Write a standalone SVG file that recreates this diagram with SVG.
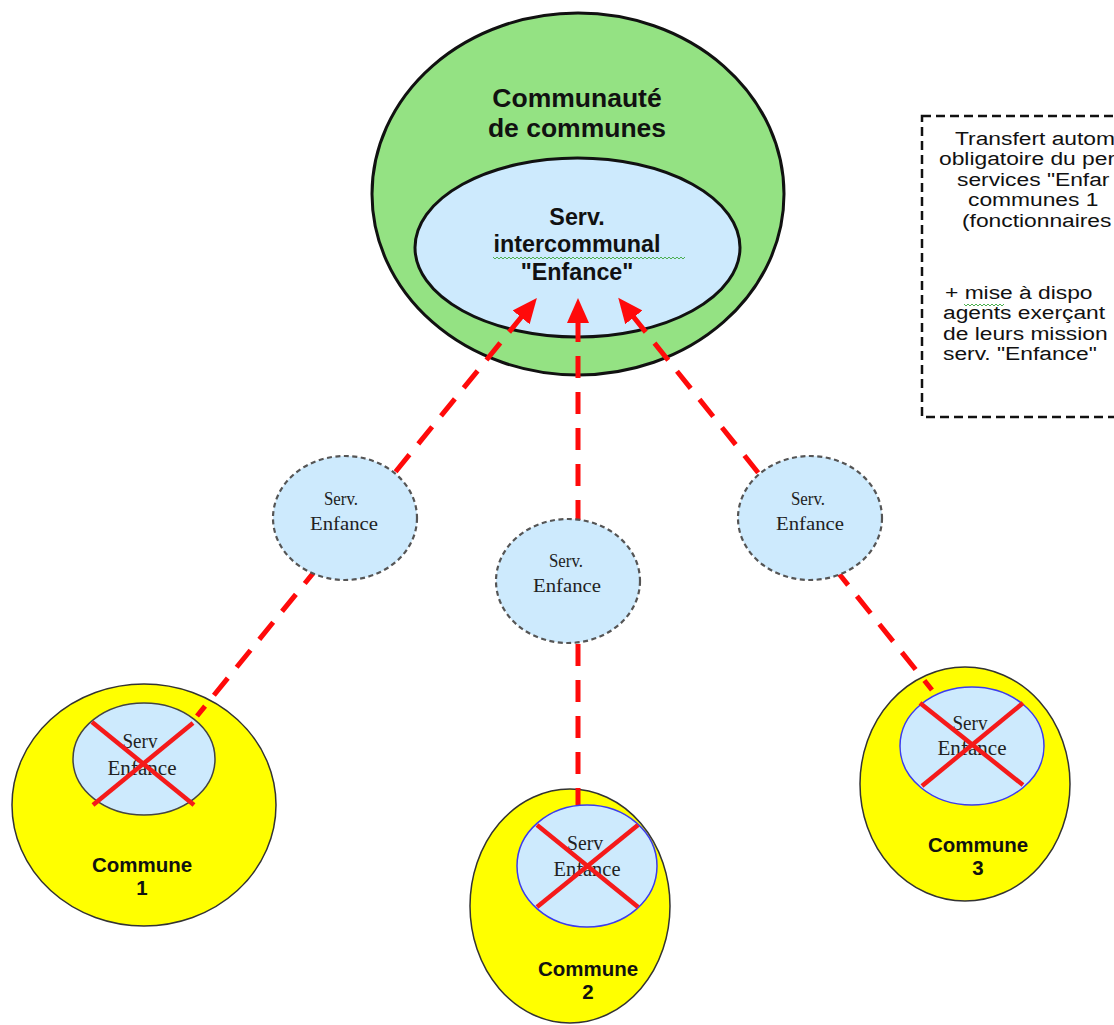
<svg xmlns="http://www.w3.org/2000/svg" width="1114" height="1025" viewBox="0 0 1114 1025">
  <style>
    .sans { font-family: "Liberation Sans", Arial, sans-serif; fill: #111; }
    .serif { font-family: "Liberation Serif", "Times New Roman", serif; fill: #222; }
    .bold { font-weight: bold; }
    .mid { text-anchor: middle; }
    .cc-outer { fill: #94e283; stroke: #111; stroke-width: 3; }
    .cc-inner { fill: #cdeafd; stroke: #111; stroke-width: 3; }
    .commune { fill: #ffff00; stroke: #333; stroke-width: 1.5; }
    .svc-old { fill: #cdeafd; stroke-width: 1.5; }
    .cross { stroke: #f51a1a; stroke-width: 4.5; stroke-linecap: butt; }
    .transit { fill: #cdeafd; stroke: #555; stroke-width: 2.2; stroke-dasharray: 5 3.5; }
    .link { fill: none; stroke: #ff0a0a; stroke-width: 5; stroke-dasharray: 22 14; }
    .squiggle { fill: none; stroke: #4caf50; stroke-width: 1; }
  </style>
  <defs>
    <marker id="arrow" markerUnits="userSpaceOnUse" markerWidth="26" markerHeight="24" refX="3" refY="12" orient="auto-start-reverse">
      <path d="M0,1 L25,12 L0,23 z" fill="#ff0a0a"/>
    </marker>
  </defs>

  <!-- Communauté de communes with its intercommunal service -->
  <g id="communaute">
    <ellipse class="cc-outer" cx="578" cy="194" rx="206" ry="181"/>
    <text class="sans bold mid" x="577" y="107" font-size="26.5">Communauté</text>
    <text class="sans bold mid" x="577" y="137" font-size="26.5">de communes</text>
  </g>
  <g id="serv-intercommunal">
    <ellipse class="cc-inner" cx="577.5" cy="247.5" rx="162.5" ry="89.5"/>
    <text class="sans bold mid" x="577" y="225" font-size="23.3">Serv.</text>
    <text class="sans bold mid" x="577" y="252" font-size="23.3">intercommunal</text>
    <text class="sans bold mid" x="577" y="280" font-size="23.3">"Enfance"</text>
    <path class="squiggle" d="M493,257 l2,2 2,-2 2,2 2,-2 2,2 2,-2 2,2 2,-2 2,2 2,-2 2,2 2,-2 2,2 2,-2 2,2 2,-2 2,2 2,-2 2,2 2,-2 2,2 2,-2 2,2 2,-2 2,2 2,-2 2,2 2,-2 2,2 2,-2 2,2 2,-2 2,2 2,-2 2,2 2,-2 2,2 2,-2 2,2 2,-2 2,2 2,-2 2,2 2,-2 2,2 2,-2 2,2 2,-2 2,2 2,-2 2,2 2,-2 2,2 2,-2 2,2 2,-2 2,2 2,-2 2,2 2,-2 2,2 2,-2 2,2 2,-2 2,2 2,-2 2,2 2,-2 2,2 2,-2 2,2 2,-2 2,2 2,-2 2,2 2,-2 2,2 2,-2 2,2 2,-2 2,2 2,-2 2,2 2,-2 2,2 2,-2 2,2 2,-2 2,2 2,-2 2,2 2,-2 2,2 2,-2 2,2 2,-2"/>
  </g>

  <!-- Explanatory note (dashed frame runs past the right edge) -->
  <g id="note">
    <rect x="922" y="116" width="220" height="301" fill="none" stroke="#111" stroke-width="2.5" stroke-dasharray="9 5"/>
    <g class="sans" font-size="19">
      <text transform="matrix(1.2 0 0 1 955 0)" x="0" y="145">Transfert autom</text>
      <text transform="matrix(1.2 0 0 1 939 0)" x="0" y="165.5">obligatoire du per</text>
      <text transform="matrix(1.2 0 0 1 957 0)" x="0" y="186">services "Enfar</text>
      <text transform="matrix(1.2 0 0 1 968 0)" x="0" y="206.5">communes 1</text>
      <text transform="matrix(1.2 0 0 1 962 0)" x="0" y="227">(fonctionnaires</text>
      <text transform="matrix(1.2 0 0 1 945 0)" x="0" y="299">+  mise à dispo</text>
      <text transform="matrix(1.2 0 0 1 943 0)" x="0" y="319.5">agents exerçant</text>
      <text transform="matrix(1.2 0 0 1 943 0)" x="0" y="340">de leurs mission</text>
      <text transform="matrix(1.2 0 0 1 943 0)" x="0" y="360">serv. "Enfance"</text>
    </g>
    <path class="squiggle" d="M964,304 l2,2 2,-2 2,2 2,-2 2,2 2,-2 2,2 2,-2 2,2 2,-2 2,2 2,-2 2,2 2,-2 2,2 2,-2 2,2 2,-2 2,2 2,-2"/>
  </g>

  <!-- Communes (outer discs) -->
  <g id="commune-1">
    <ellipse class="commune" cx="144" cy="805" rx="132" ry="121"/>
    <text class="sans bold mid" x="142" y="872" font-size="20.5">Commune</text>
    <text class="sans bold mid" x="142" y="895" font-size="20.5">1</text>
  </g>
  <g id="commune-2">
    <ellipse class="commune" cx="570" cy="906" rx="100" ry="117"/>
    <text class="sans bold mid" x="588" y="976" font-size="20.5">Commune</text>
    <text class="sans bold mid" x="588" y="999" font-size="20.5">2</text>
  </g>
  <g id="commune-3">
    <ellipse class="commune" cx="965" cy="784" rx="105" ry="117"/>
    <text class="sans bold mid" x="978" y="852" font-size="20.5">Commune</text>
    <text class="sans bold mid" x="978" y="875" font-size="20.5">3</text>
  </g>

  <!-- Transfer connectors, drawn from the arrowhead down to each commune -->
  <g id="connectors">
    <path class="link" marker-start="url(#arrow)" d="M523,315 L197,716"/>
    <path class="link" marker-start="url(#arrow)" d="M578,320 L578,805"/>
    <path class="link" marker-start="url(#arrow)" d="M632,315 L932,690"/>
  </g>

  <!-- Former municipal services, crossed out -->
  <g id="serv-commune-1">
    <ellipse class="svc-old" stroke="#444" cx="144" cy="759" rx="71" ry="56"/>
    <text class="serif mid" x="140" y="748" font-size="20" textLength="35" lengthAdjust="spacingAndGlyphs">Serv</text>
    <text class="serif mid" x="142" y="775" font-size="20" textLength="69" lengthAdjust="spacingAndGlyphs">Enfance</text>
    <line class="cross" x1="92" y1="722" x2="194" y2="805"/>
    <line class="cross" x1="93" y1="805" x2="193" y2="723"/>
  </g>
  <g id="serv-commune-2">
    <ellipse class="svc-old" stroke="#3b3bf0" cx="587" cy="866" rx="70" ry="61"/>
    <text class="serif mid" x="585" y="850" font-size="20" textLength="36" lengthAdjust="spacingAndGlyphs">Serv</text>
    <text class="serif mid" x="587" y="876" font-size="20" textLength="67" lengthAdjust="spacingAndGlyphs">Enfance</text>
    <line class="cross" x1="537" y1="825" x2="638" y2="907"/>
    <line class="cross" x1="537" y1="907" x2="638" y2="825"/>
  </g>
  <g id="serv-commune-3">
    <ellipse class="svc-old" stroke="#3b3bf0" cx="972" cy="746" rx="72" ry="59"/>
    <text class="serif mid" x="970" y="730" font-size="20" textLength="35" lengthAdjust="spacingAndGlyphs">Serv</text>
    <text class="serif mid" x="972" y="755" font-size="20" textLength="69" lengthAdjust="spacingAndGlyphs">Enfance</text>
    <line class="cross" x1="920" y1="703" x2="1023" y2="785"/>
    <line class="cross" x1="922" y1="786" x2="1023" y2="703"/>
  </g>

  <!-- Services in transit -->
  <g id="transit-1">
    <ellipse class="transit" cx="345" cy="518" rx="72" ry="62"/>
    <text class="serif mid" x="341" y="505" font-size="18" textLength="34" lengthAdjust="spacingAndGlyphs">Serv.</text>
    <text class="serif mid" x="344" y="530" font-size="18" textLength="68" lengthAdjust="spacingAndGlyphs">Enfance</text>
  </g>
  <g id="transit-2">
    <ellipse class="transit" cx="568" cy="581" rx="72" ry="62"/>
    <text class="serif mid" x="566" y="567" font-size="18" textLength="34" lengthAdjust="spacingAndGlyphs">Serv.</text>
    <text class="serif mid" x="567" y="592" font-size="18" textLength="68" lengthAdjust="spacingAndGlyphs">Enfance</text>
  </g>
  <g id="transit-3">
    <ellipse class="transit" cx="810" cy="518" rx="72" ry="62"/>
    <text class="serif mid" x="808" y="505" font-size="18" textLength="34" lengthAdjust="spacingAndGlyphs">Serv.</text>
    <text class="serif mid" x="810" y="530" font-size="18" textLength="68" lengthAdjust="spacingAndGlyphs">Enfance</text>
  </g>
</svg>
